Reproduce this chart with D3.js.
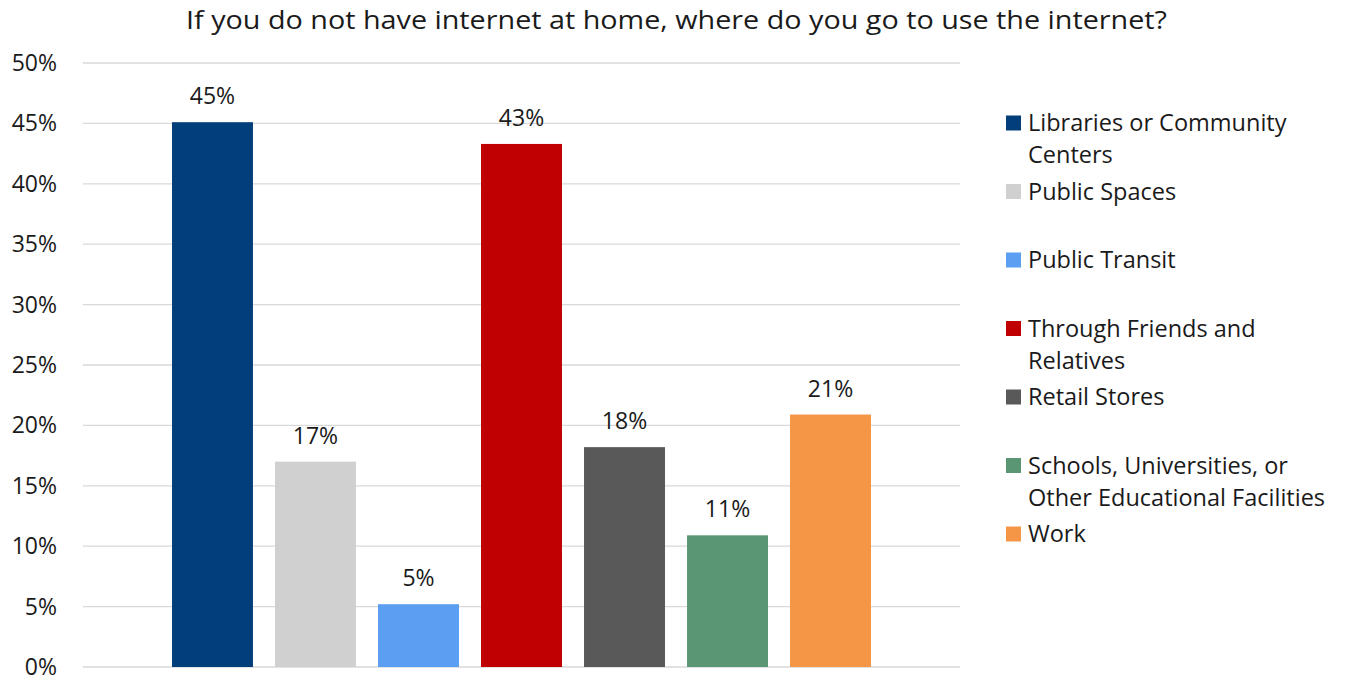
<!DOCTYPE html>
<html>
<head>
<meta charset="utf-8">
<script src="https://cdn.jsdelivr.net/npm/d3@7"></script>
<style>
  body { margin: 0; background: #fff; }
  svg text { font-family: "Open Sans", sans-serif; fill: #1a1a1a; }
</style>
</head>
<body>
<div id="chart"></div>
<script>
// data
var categories = ["Libraries or Community Centers", "Public Spaces", "Public Transit",
  "Through Friends and Relatives", "Retail Stores",
  "Schools, Universities, or Other Educational Facilities", "Work"];
var values = [0.451, 0.170, 0.052, 0.433, 0.182, 0.109, 0.209];
var valueLabels = ["45%", "17%", "5%", "43%", "18%", "11%", "21%"];
var colors = ["#023E7A", "#D0D0D0", "#5B9FF2", "#C00000", "#595959", "#5A9674", "#F59646"];
// legend text, wrapped like the original
var legendLines = [
  ["Libraries or Community", "Centers"],
  ["Public Spaces"],
  ["Public Transit"],
  ["Through Friends and", "Relatives"],
  ["Retail Stores"],
  ["Schools, Universities, or", "Other Educational Facilities"],
  ["Work"]
];
var yTicks = [0, 0.05, 0.1, 0.15, 0.2, 0.25, 0.3, 0.35, 0.4, 0.45, 0.5];

var width = 1345, height = 678;
var plotLeft = 83, plotRight = 960, plotTop = 63, plotBottom = 667;

var svg = d3.select("#chart").append("svg")
  .attr("width", width)
  .attr("height", height);

var y = d3.scaleLinear().domain([0, 0.5]).range([plotBottom, plotTop]);

var x = d3.scaleBand()
  .domain(categories)
  .range([plotLeft, plotRight])
  .paddingInner(0.214)
  .paddingOuter(0.864);

// title
svg.append("text")
  .attr("x", 186)
  .attr("y", 29)
  .attr("textLength", 981)
  .attr("lengthAdjust", "spacingAndGlyphs")
  .style("font-size", "25px")
  .text("If you do not have internet at home, where do you go to use the internet?");

// gridlines
svg.append("g")
  .selectAll("line")
  .data(yTicks)
  .join("line")
  .attr("x1", plotLeft)
  .attr("x2", plotRight)
  .attr("y1", (d) => y(d))
  .attr("y2", (d) => y(d))
  .attr("stroke", "#D9D9D9")
  .attr("stroke-width", 1.3);

// y axis labels
var yAxis = d3.axisLeft(y)
  .tickValues(yTicks)
  .tickFormat((d) => Math.round(d * 100) + "%")
  .tickSize(0)
  .tickPadding(0);

var yg = svg.append("g")
  .attr("transform", "translate(57,0)")
  .call(yAxis);
yg.select(".domain").remove();
yg.selectAll("text")
  .style("font-size", "23px")
  .style("font-family", "'Open Sans', sans-serif")
  .attr("fill", "#1a1a1a")
  .attr("dy", "0.33em");

// bars
svg.append("g")
  .selectAll("rect")
  .data(values)
  .join("rect")
  .attr("x", (d, i) => x(categories[i]))
  .attr("y", (d) => y(d))
  .attr("width", x.bandwidth())
  .attr("height", (d) => plotBottom - y(d))
  .attr("fill", (d, i) => colors[i]);

// value labels
svg.append("g")
  .selectAll("text")
  .data(values)
  .join("text")
  .attr("x", (d, i) => x(categories[i]) + x.bandwidth() / 2)
  .attr("y", (d) => y(d) - 18)
  .attr("text-anchor", "middle")
  .style("font-size", "23px")
  .text((d, i) => valueLabels[i]);

// legend
var legend = svg.append("g");
var legendTop = 123, legendStep = 68.5;

var items = legend.selectAll("g")
  .data(categories)
  .join("g")
  .attr("transform", (d, i) => "translate(1006," + (legendTop + i * legendStep) + ")");

items.append("rect")
  .attr("x", 0)
  .attr("y", -7.5)
  .attr("width", 15)
  .attr("height", 15)
  .attr("fill", (d, i) => colors[i]);

items.each(function (d, i) {
  var t = d3.select(this).append("text")
    .attr("x", 22)
    .attr("y", 0)
    .style("font-size", "23.5px");
  legendLines[i].forEach(function (line, j) {
    t.append("tspan")
      .attr("x", 22)
      .attr("y", j * 32)
      .attr("dy", "0.35em")
      .text(line);
  });
});
</script>
</body>
</html>
